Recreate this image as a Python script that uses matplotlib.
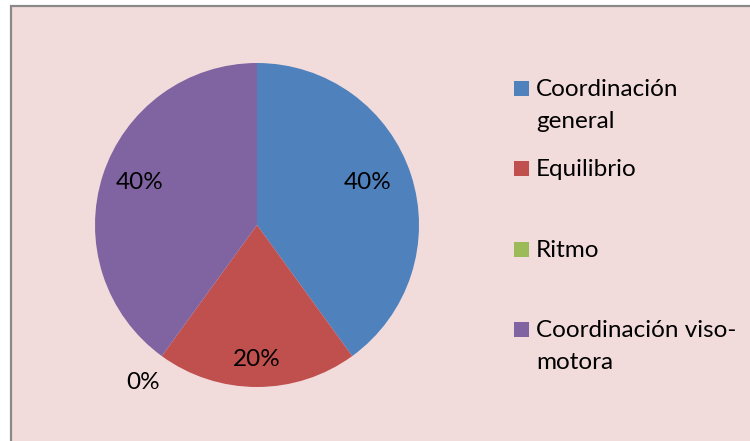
import matplotlib
matplotlib.use("Agg")
import matplotlib.pyplot as plt
import matplotlib.patches as mpatches
import numpy as np

categories = ["Coordinación general", "Equilibrio", "Ritmo", "Coordinación viso-motora"]
legend_labels = ["Coordinación\ngeneral", "Equilibrio", "Ritmo", "Coordinación viso-\nmotora"]
values = [40, 20, 0, 40]
colors = ["#4F81BD", "#C0504D", "#9BBB59", "#8064A2"]
label_dist = [0.73, 0.83, 1.20, 0.77]
label_nudge_deg = [3, 0, 0, -2]

plt.rcParams['font.family'] = ['Lato', 'DejaVu Sans']
W, H = 750, 441
fig = plt.figure(figsize=(W/100, H/100), dpi=100)
fig.patch.set_facecolor('white')

bg = mpatches.Rectangle((11/W, -0.1), 1.2, 435/H + 0.1, transform=fig.transFigure,
                        facecolor='#F2DCDB', edgecolor='#898989', linewidth=1.6, zorder=-5)
fig.patches.append(bg)

R = 162
cx, cy = 257, 441 - 225
ax = fig.add_axes([(cx - R)/W, (cy - R)/H, 2*R/W, 2*R/H])
ax.set_zorder(2)
ax.set_facecolor('none')
wedges, texts, autotexts = ax.pie(values, colors=colors, startangle=90, counterclock=False,
                                  autopct='%1.0f%%', pctdistance=0.76,
                                  wedgeprops=dict(linewidth=0),
                                  textprops=dict(fontsize=17.5, color='black'))
ax.set_xlim(-1, 1)
ax.set_ylim(-1, 1)
ax.set_aspect('equal')

for w, t, d, nd in zip(wedges, autotexts, label_dist, label_nudge_deg):
    ang = np.deg2rad((w.theta1 + w.theta2) / 2 + nd)
    t.set_position((d*np.cos(ang), d*np.sin(ang)))

# legend
centers = [88.5, 168.5, 249.5, 329.5]
line_step = 32
for lab, col, yc in zip(legend_labels, colors, centers):
    fig.patches.append(mpatches.Rectangle((514/W, (H - yc - 7.5)/H), 15/W, 15/H,
                                          transform=fig.transFigure, facecolor=col,
                                          edgecolor='none', zorder=3))
    for i, line in enumerate(lab.split('\n')):
        fig.text(536/W, (H - yc - 7.5 - i*line_step)/H, line, fontsize=17.5,
                 va='baseline', ha='left', zorder=3)

fig.savefig("out.png", dpi=100)
